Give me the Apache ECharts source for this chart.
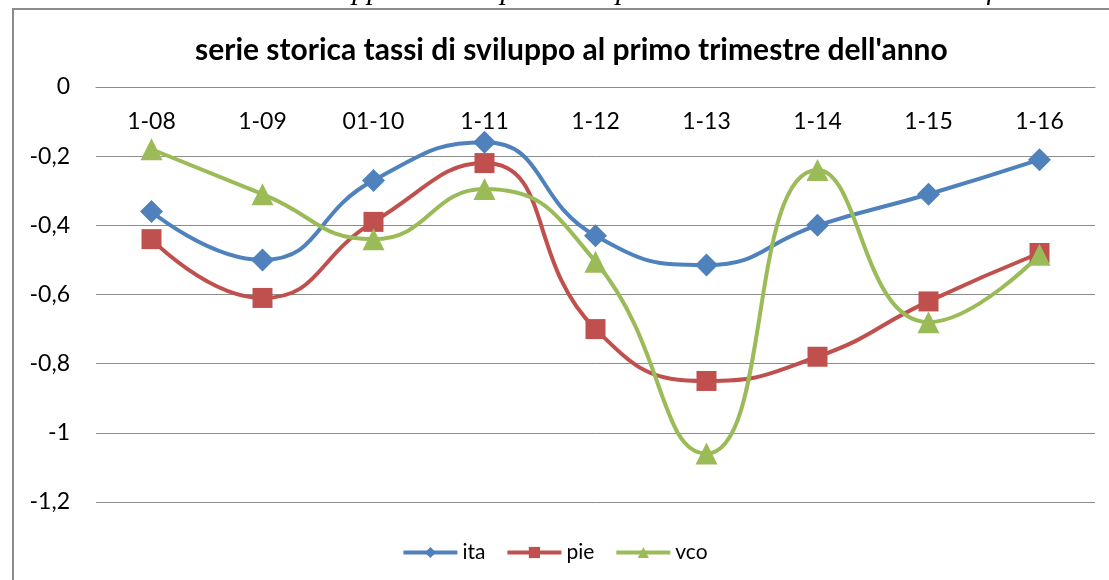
<!DOCTYPE html>
<html><head><meta charset="utf-8">
<script src="https://cdn.jsdelivr.net/npm/echarts@6/dist/echarts.min.js"></script>
<style>html,body{margin:0;padding:0;background:#fff}#c{width:1109px;height:580px}</style>
</head><body><div id="c"></div>
<script>
const categories = ['1-08','1-09','01-10','1-11','1-12','1-13','1-14','1-15','1-16'];
const ita = [-0.36,-0.50,-0.27,-0.16,-0.43,-0.515,-0.40,-0.31,-0.21];
const pie = [-0.44,-0.61,-0.39,-0.22,-0.70,-0.85,-0.78,-0.62,-0.48];
const vco = [-0.18,-0.31,-0.44,-0.295,-0.505,-1.06,-0.24,-0.68,-0.485];
const yTicks = [0,-0.2,-0.4,-0.6,-0.8,-1,-1.2];
const titleText = "serie storica tassi di sviluppo al primo trimestre dell'anno";
const captionText = "Andamento dei tassi di sviluppo delle imprese nel primo trimestre dell'anno. Confronto";

const chart = echarts.init(document.getElementById('c'), null, {renderer:'canvas'});
const font = 'Lato, "Open Sans", sans-serif';
function mk(name, data, color, symbol, size){
  return {name, type:'line', data, smooth:0.5, color,
    symbol, symbolSize:size, lineStyle:{width:4,color}, itemStyle:{color},
    emphasis:{disabled:true}};
}
chart.setOption({
  animation:false,
  backgroundColor:'#fff',
  title:{text:titleText,left:190,top:30,
    textStyle:{fontFamily:font,fontWeight:'bold',fontSize:30,color:'#000'}},
  graphic:[
    {type:'text',style:{text:captionText,x:14,y:-24,verticalAlign:'top',
      font:'italic 30px "Liberation Serif", serif',fill:'#000'},silent:true},
    {type:'rect',shape:{x:13,y:9,width:1200,height:700},
     style:{fill:'#fff',stroke:'#8c8c8c',lineWidth:2},silent:true,z:-10}
  ],
  legend:{top:537,left:'center',itemWidth:54,itemHeight:14,itemGap:20,
    lineStyle:{width:4},
    textStyle:{fontFamily:font,fontSize:21,color:'#000'},
    data:['ita','pie','vco']},
  grid:{left:96,right:14,top:87,bottom:78,containLabel:false},
  xAxis:{type:'category',data:categories,position:'top',boundaryGap:true,
    axisLine:{show:true,lineStyle:{color:'#8c8c8c',width:1}},
    axisTick:{show:false},
    axisLabel:{inside:true,margin:23,fontFamily:font,fontSize:23,color:'#000'},
    splitLine:{show:false}},
  yAxis:{type:'value',min:-1.2,max:0,interval:0.2,
    axisLine:{show:false},axisTick:{show:false},
    axisLabel:{margin:26,fontFamily:font,fontSize:23,color:'#000',
      formatter:v=>{const r=Math.round(v*10)/10;return String(r).replace('.',',');}},
    splitLine:{lineStyle:{color:'#8c8c8c',width:1}}},
  series:[
    mk('ita',ita,'#4F81BD','diamond',23),
    mk('pie',pie,'#C0504D','rect',20),
    mk('vco',vco,'#9BBB59','triangle',22)
  ]
});
</script></body></html>
